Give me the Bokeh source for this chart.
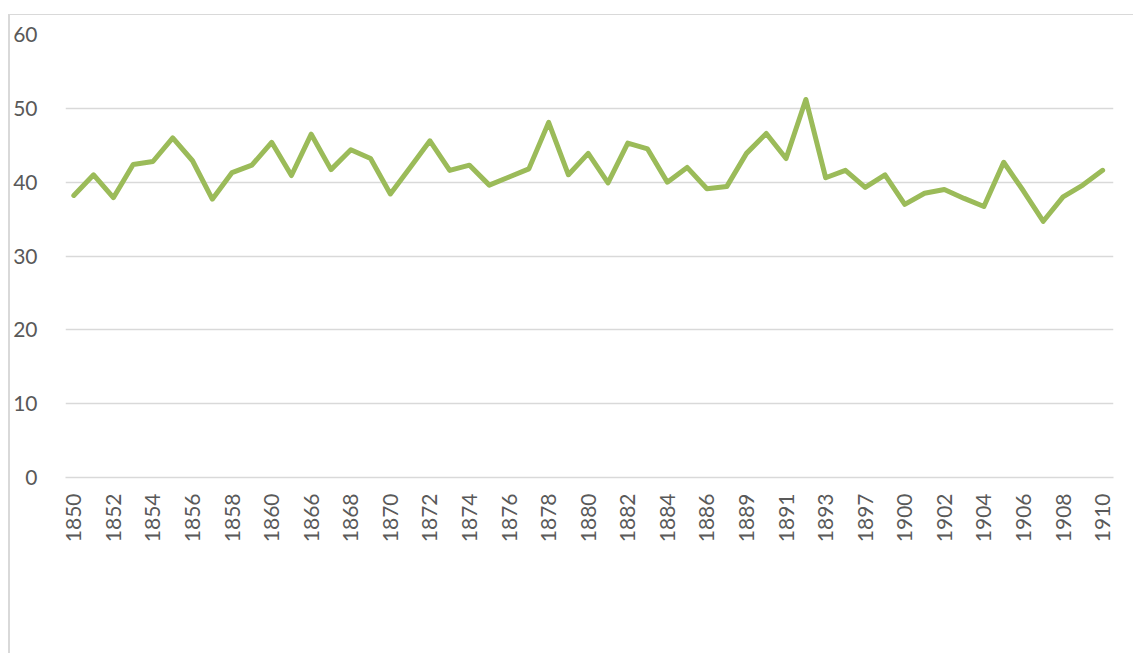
from bokeh.plotting import figure
from bokeh.models import Range1d, FixedTicker, ColumnDataSource
from bokeh.embed import file_html
from bokeh.resources import INLINE
import math

years = ["1850", "1851", "1852", "1853", "1854", "1855", "1856", "1857", "1858", "1859",
         "1860", "1861", "1866", "1867", "1868", "1869", "1870", "1871", "1872", "1873",
         "1874", "1875", "1876", "1877", "1878", "1879", "1880", "1881", "1882", "1883",
         "1884", "1885", "1886", "1887", "1889", "1890", "1891", "1892", "1893", "1895",
         "1897", "1898", "1900", "1901", "1902", "1903", "1904", "1905", "1906", "1907",
         "1908", "1909", "1910"]
values = [38.2, 41.0, 37.9, 42.4, 42.8, 46.0, 42.9, 37.7, 41.3, 42.3,
          45.4, 40.9, 46.5, 41.7, 44.4, 43.2, 38.4, 42.0, 45.6, 41.6,
          42.3, 39.6, 40.7, 41.8, 48.1, 41.0, 43.9, 39.9, 45.3, 44.5,
          40.0, 42.0, 39.1, 39.4, 43.9, 46.6, 43.2, 51.2, 40.6, 41.6,
          39.3, 41.0, 37.0, 38.5, 39.0, 37.8, 36.7, 42.7, 38.8, 34.7,
          38.0, 39.6, 41.6]
y_ticks = [0, 10, 20, 30, 40, 50, 60]

idx = list(range(len(years)))
src = ColumnDataSource(dict(x=idx, y=values))

p = figure(width=1125, height=639, output_backend="svg", toolbar_location=None,
           x_range=Range1d(-0.42, len(years) - 1 + 0.55), y_range=Range1d(0, 60),
           min_border_left=50, min_border_right=22, min_border_top=19, min_border_bottom=177)
p.styles = {"margin-top": "14px", "margin-left": "8px",
            "border-top": "1px solid #d9d9d9", "border-left": "2px solid #d9d9d9"}
p.outline_line_color = None
p.background_fill_color = "white"
p.border_fill_color = "white"

p.line("x", "y", source=src, line_color="#9bbb59", line_width=5, line_join="round", line_cap="round")

font = "Lato"
lab_color = "#595959"

p.yaxis.ticker = FixedTicker(ticks=y_ticks)
p.yaxis.axis_line_color = None
p.yaxis.major_tick_line_color = None
p.yaxis.minor_tick_line_color = None
p.yaxis.major_label_standoff = 22
p.yaxis.major_label_text_font = font
p.yaxis.major_label_text_font_size = "21px"
p.yaxis.major_label_text_color = lab_color

p.xaxis.ticker = FixedTicker(ticks=list(range(0, len(years), 2)))
p.xaxis.major_label_overrides = {i: years[i] for i in range(0, len(years), 2)}
p.xaxis.axis_line_color = "#d9d9d9"
p.xaxis.axis_line_width = 1.5
p.xaxis.major_tick_line_color = None
p.xaxis.minor_tick_line_color = None
p.xaxis.major_label_orientation = math.pi / 2
p.xaxis.major_label_standoff = 10
p.xaxis.major_label_text_font = font
p.xaxis.major_label_text_font_size = "21px"
p.xaxis.major_label_text_color = lab_color

p.xgrid.grid_line_color = None
p.ygrid.ticker = FixedTicker(ticks=y_ticks)
p.ygrid.grid_line_color = "#d9d9d9"
p.ygrid.grid_line_width = 1.5

open("out.html", "w").write(file_html(p, INLINE))
